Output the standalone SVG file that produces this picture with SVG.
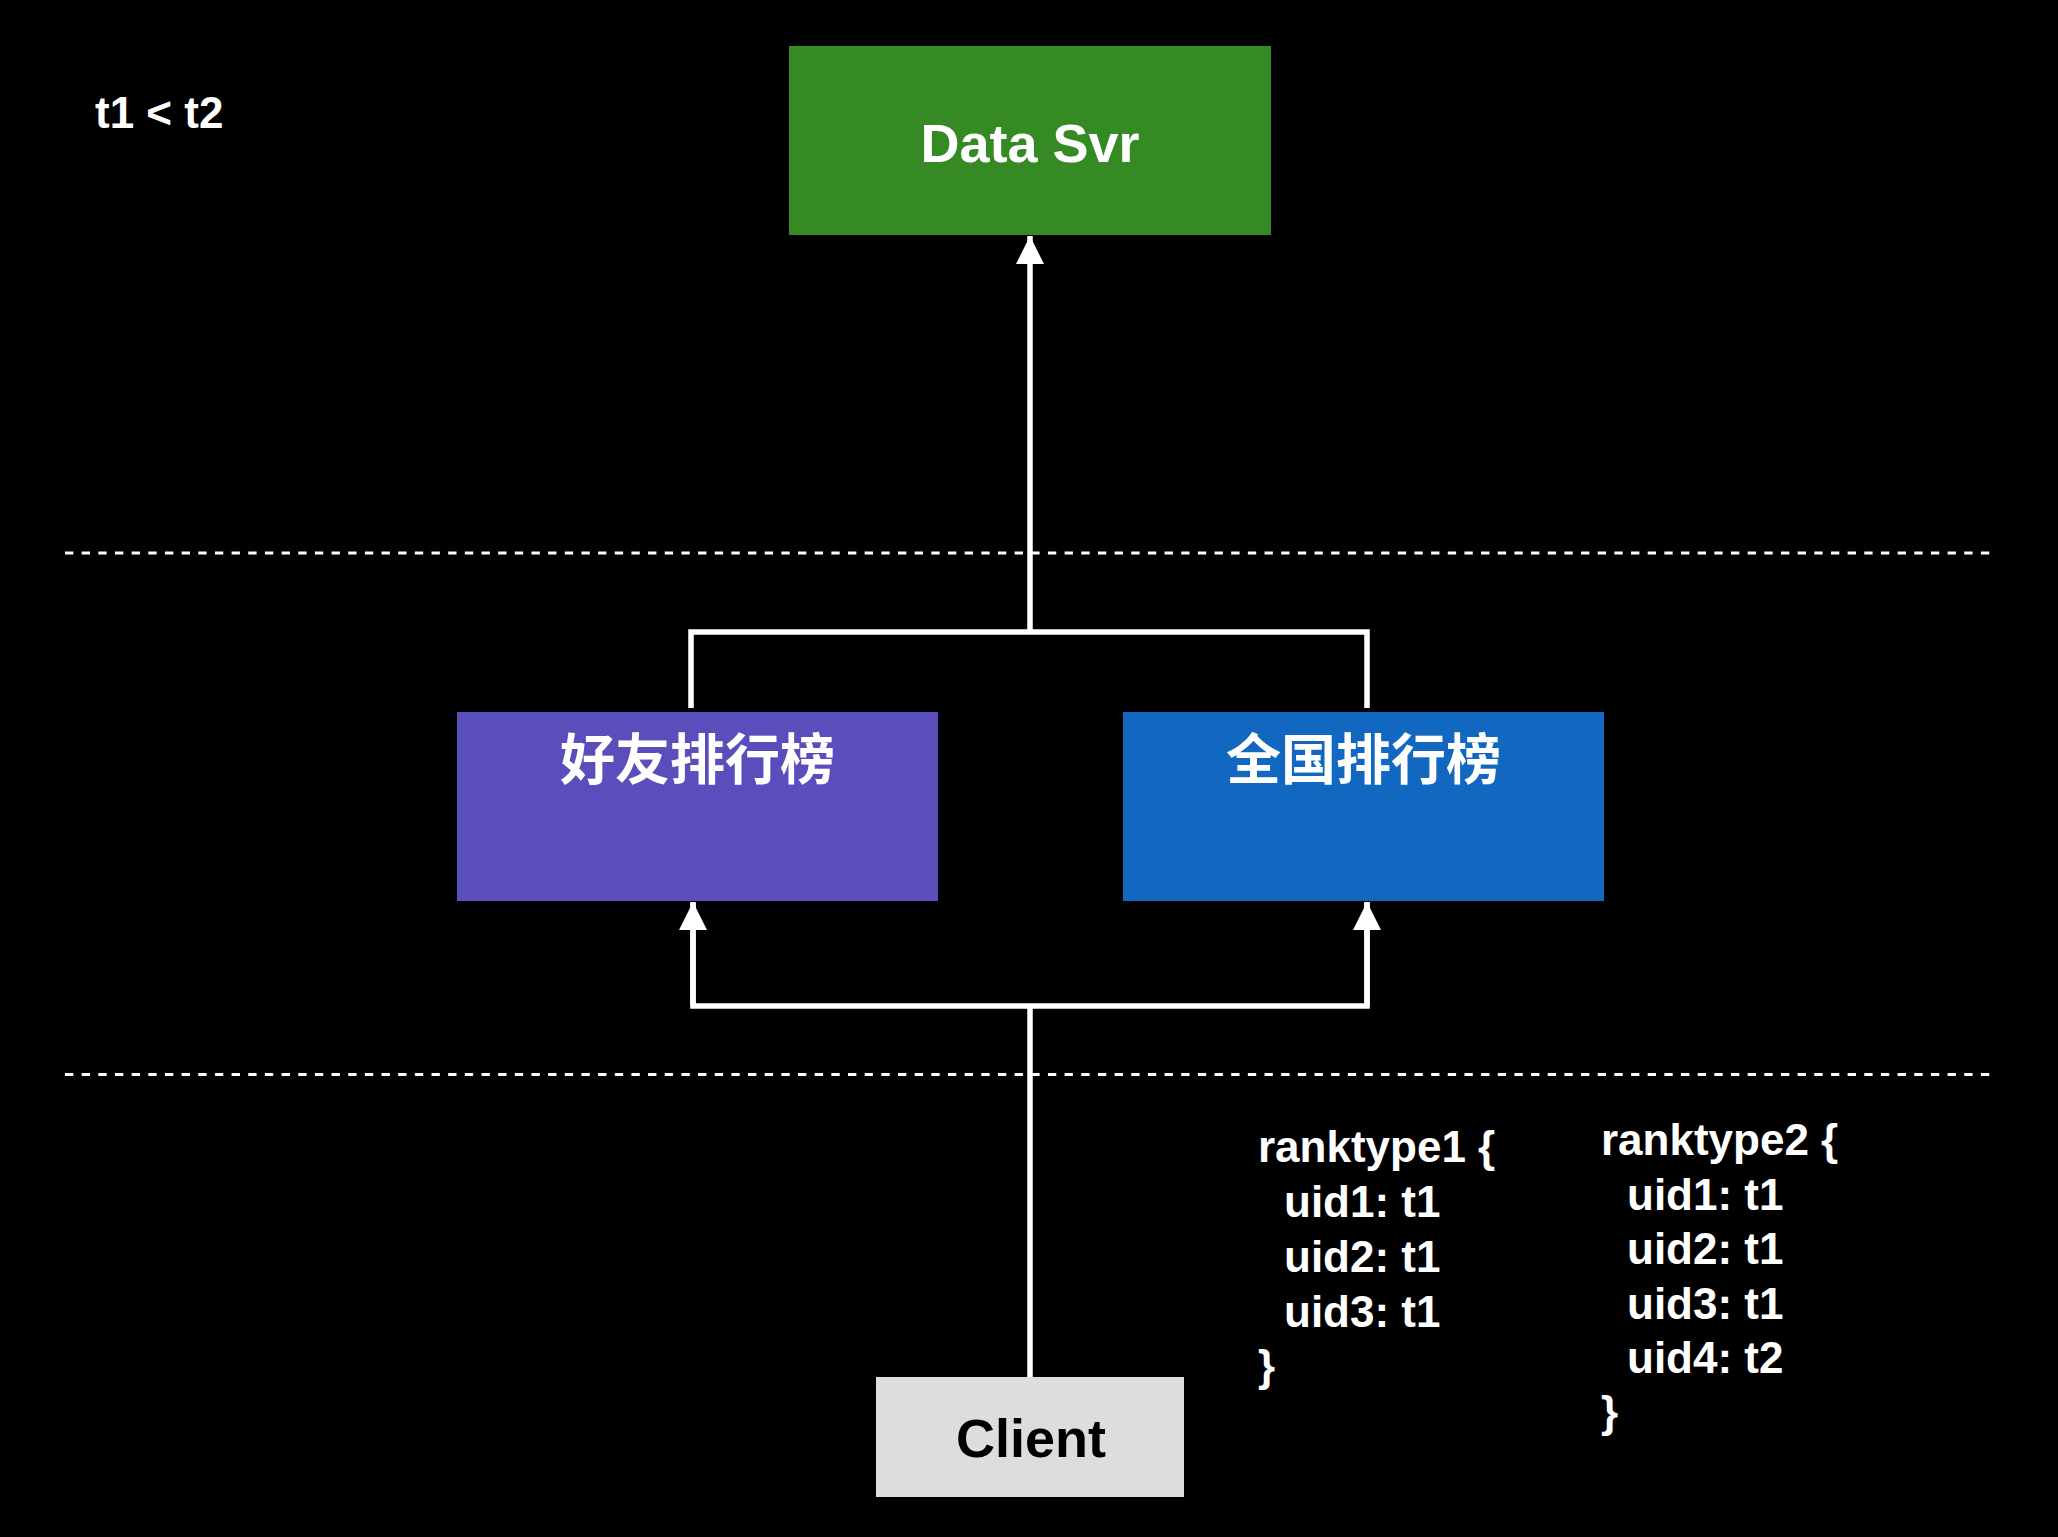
<svg xmlns="http://www.w3.org/2000/svg" width="2058" height="1537" viewBox="0 0 2058 1537">
<defs>
<style>
.lbl{font-family:"Liberation Sans","Noto Sans CJK SC",Arial,sans-serif;font-weight:700;}
.w{fill:#ffffff;}
.cjk{font-family:"Noto Sans CJK SC","Liberation Sans",sans-serif;font-weight:700;fill:#ffffff;}
.conn{fill:none;stroke:#ffffff;stroke-width:5.5;}
.dash{fill:none;stroke:#ffffff;stroke-width:3;stroke-dasharray:8.33 8.33;}
</style>
<marker id="arr" viewBox="0 0 28 28" refX="28" refY="14" markerWidth="28" markerHeight="28" markerUnits="userSpaceOnUse" orient="auto">
<path d="M0,0 L28,14 L0,28 Z" fill="#ffffff"/>
</marker>
</defs>
<rect width="2058" height="1537" fill="#000000"/>

<g id="separators">
<line class="dash" x1="65" y1="553" x2="1992" y2="553"/>
<line class="dash" x1="65" y1="1074.5" x2="1992" y2="1074.5"/>
</g>

<g id="connectors">
<polyline class="conn" points="691,708 691,632 1367,632 1367,708"/>
<line class="conn" x1="1030" y1="632" x2="1030" y2="236" marker-end="url(#arr)"/>
<line class="conn" x1="1030" y1="1379" x2="1030" y2="1006"/>
<polyline class="conn" points="693,903 693,1006 1367,1006 1367,903" />
<line class="conn" x1="693" y1="1006" x2="693" y2="902" marker-end="url(#arr)"/>
<line class="conn" x1="1367" y1="1006" x2="1367" y2="902" marker-end="url(#arr)"/>
</g>

<g id="note">
<text class="lbl w" x="95" y="128" font-size="44">t1 &lt; t2</text>
</g>

<g id="data-svr">
<rect x="789" y="46" width="482" height="189" fill="#368A23"/>
<text class="lbl w" x="1030" y="162" font-size="54" text-anchor="middle">Data Svr</text>
</g>

<g id="friend-rank">
<rect x="457" y="712" width="481" height="189" fill="#5A4EBC"/>
<text class="cjk" x="697.5" y="779" font-size="55" text-anchor="middle">好友排行榜</text>
</g>

<g id="national-rank">
<rect x="1123" y="712" width="481" height="189" fill="#1268C0"/>
<text class="cjk" x="1363.5" y="779" font-size="55" text-anchor="middle">全国排行榜</text>
</g>

<g id="client">
<rect x="876" y="1377" width="308" height="120" fill="#DCDDDF"/>
<text class="lbl" x="1031" y="1457" font-size="54" text-anchor="middle" fill="#000000">Client</text>
</g>

<g id="ranktype1">
<text class="lbl w" font-size="44" xml:space="preserve"><tspan x="1258" y="1162">ranktype1 {</tspan><tspan x="1284" y="1217">uid1: t1</tspan><tspan x="1284" y="1272">uid2: t1</tspan><tspan x="1284" y="1327">uid3: t1</tspan><tspan x="1258" y="1381">}</tspan></text>
</g>

<g id="ranktype2">
<text class="lbl w" font-size="44" xml:space="preserve"><tspan x="1601" y="1155">ranktype2 {</tspan><tspan x="1627" y="1210">uid1: t1</tspan><tspan x="1627" y="1264">uid2: t1</tspan><tspan x="1627" y="1319">uid3: t1</tspan><tspan x="1627" y="1373">uid4: t2</tspan><tspan x="1601" y="1427">}</tspan></text>
</g>
</svg>
